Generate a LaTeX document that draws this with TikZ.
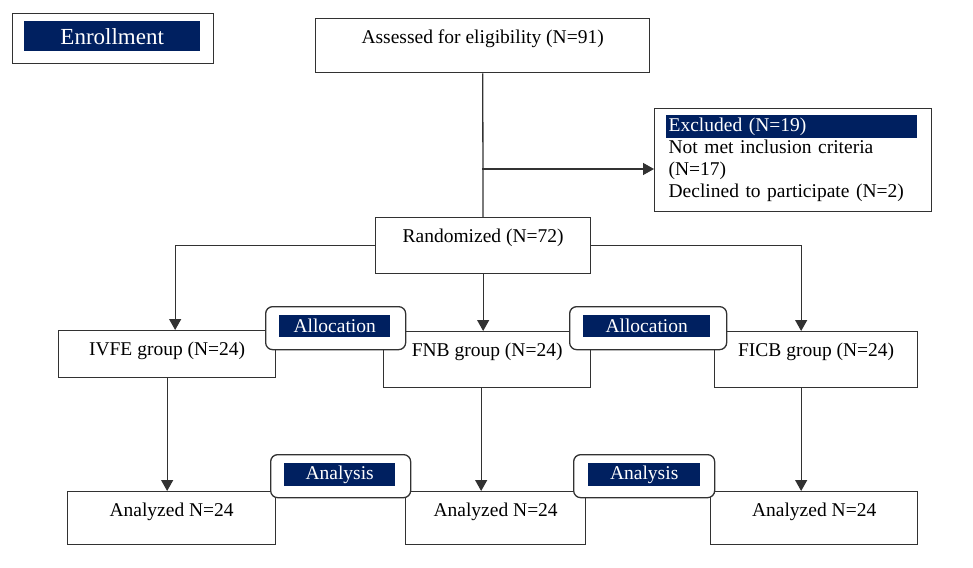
\documentclass[tikz,border=0pt]{standalone}
\usepackage{fontspec}
\setmainfont{Liberation Serif}
\usetikzlibrary{arrows.meta}
\definecolor{navy}{RGB}{0,32,96}
\definecolor{linegray}{RGB}{50,50,50}
\tikzstyle{block} = [draw=linegray,line width=1.3pt,rectangle,inner sep=0pt,text height=25pt,anchor=north west,text centered]
\tikzstyle{frame} = [draw=linegray,line width=1.3pt,rectangle,rounded corners=7pt,fill=white,inner sep=0pt,anchor=north west]
\tikzstyle{tag} = [fill=navy,text=white,rectangle,inner sep=0pt,anchor=north west,text centered]
\tikzstyle{arrow} = [draw=linegray,line width=1.3pt,-{Triangle[length=11pt,width=12pt]}]
\tikzstyle{line} = [draw=linegray,line width=1.3pt]

\begin{document}
\begin{tikzpicture}[x=1pt,y=-1pt,font=\fontsize{19.5pt}{22pt}\selectfont]
				\useasboundingbox (0,0) rectangle (973,567);
				\node (enroll_box) [block,text height=0pt,minimum width=201pt,minimum height=50pt] at (12,13) {};
				\node (enroll) [tag,minimum width=176pt,minimum height=30pt,font=\fontsize{23pt}{26pt}\selectfont] at (24,21) {Enrollment};
				\node (assess) [block,minimum width=334pt,text depth=29pt] at (315,18) {Assessed for eligibility (N=91)};
				\node (excl_hl) [tag,minimum width=251pt,minimum height=23pt] at (666,115) {};
				\node (excl) [draw=linegray,line width=1.3pt,rectangle,anchor=north west,align=left,text width=249pt,inner xsep=14pt,inner ysep=0pt,minimum height=103pt] at (654,108) {\textcolor{white}{Excluded (N=19)}\\Not met inclusion criteria\\(N=17)\\Declined to participate (N=2)};
				\node (random) [block,minimum width=215pt,text depth=31pt] at (375,217) {Randomized (N=72)};
				\node (ivfe) [block,minimum width=217pt,text depth=22pt] at (58,330) {IVFE group (N=24)};
				\node (fnb) [block,minimum width=207pt,text depth=31pt] at (383,331) {FNB group (N=24)};
				\node (ficb) [block,minimum width=203pt,text depth=31pt] at (714,331) {FICB group (N=24)};
				\node (ana1) [block,minimum width=208pt,text depth=28pt] at (67,491) {Analyzed N=24};
				\node (ana2) [block,minimum width=180pt,text depth=28pt] at (405,491) {Analyzed N=24};
				\node (ana3) [block,minimum width=207pt,text depth=28pt] at (710,491) {Analyzed N=24};
				\coordinate (split) at (482,169);
				\draw [line] (assess) -- (random);
				\draw [arrow] (split) -- (split -| excl.west);
				\draw [arrow] (random.west) -| ([xshift=8pt]ivfe.north);
				\draw [arrow] (random) -- (random |- fnb.north);
				\draw [arrow] (random.east) -| ([xshift=-15pt]ficb.north);
				\draw [arrow] (ivfe) -- (ivfe |- ana1.north);
				\draw [arrow] ([xshift=-6pt]fnb.south) -- ([xshift=-6pt]fnb.south |- ana2.north);
				\draw [arrow] ([xshift=-15pt]ficb.south) -- ([xshift=-15pt]ficb.south |- ana3.north);
				\node (alloc1_box) [frame,minimum width=140pt,minimum height=43pt] at (265,306) {};
				\node (alloc1) [tag,minimum width=111pt,minimum height=22pt] at (279,315) {Allocation};
				\node (alloc2_box) [frame,minimum width=157pt,minimum height=43pt] at (569,306) {};
				\node (alloc2) [tag,minimum width=127pt,minimum height=22pt] at (583,315) {Allocation};
				\node (anal1_box) [frame,minimum width=140pt,minimum height=43pt] at (270,454) {};
				\node (anal1) [tag,minimum width=111pt,minimum height=23pt] at (284,463) {Analysis};
				\node (anal2_box) [frame,minimum width=141pt,minimum height=43pt] at (573,454) {};
				\node (anal2) [tag,minimum width=112pt,minimum height=23pt] at (588,463) {Analysis};
			\end{tikzpicture}
\end{document}
